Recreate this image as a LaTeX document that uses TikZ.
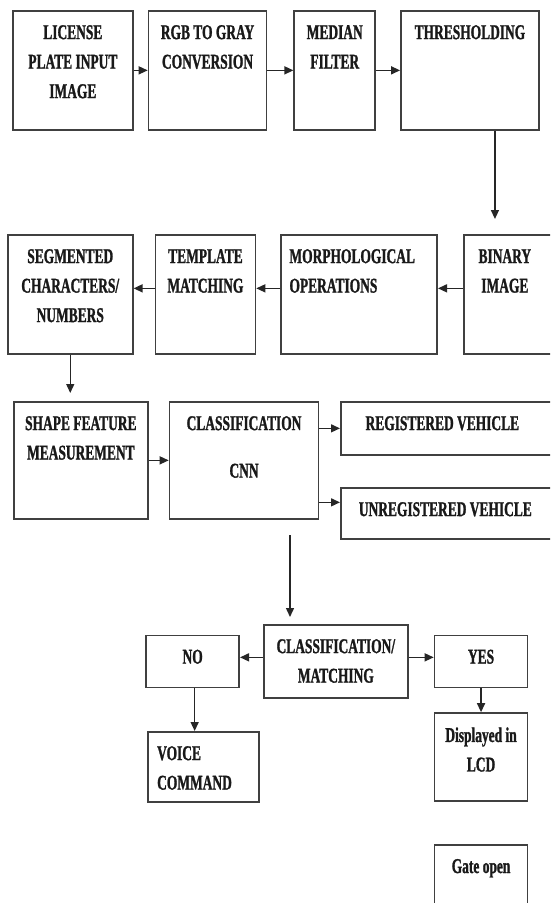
\documentclass[tikz,border=0pt]{standalone}
\usepackage{fontspec}
\setmainfont[FakeStretch=0.64, BoldFeatures={FakeBold=1.2}]{Liberation Serif}
\usetikzlibrary{arrows.meta}
\usetikzlibrary{positioning}

\begin{document}
\begin{tikzpicture}[x=1pt,y=-1pt]
    \tikzset{
      >={Triangle[length=9pt,width=8pt]},
      every node/.style={font=\bfseries\fontsize{21}{29.5}\selectfont, text=black!90},
      blk/.style={draw=black!75, line width=1.7pt, inner sep=0pt},
      txtc/.style={anchor=north, align=center, inner sep=0pt, yshift=-15pt},
      txtl/.style={anchor=north west, align=left, inner sep=0pt, yshift=-15pt, xshift=9pt},
      flow/.style={->, draw=black!85, line width=1.4pt},
    }
    \useasboundingbox (0,0) rectangle (550,903);
    \clip (0,0) rectangle (550,903);

    % first row
    \node[blk, anchor=north west, minimum width=120, minimum height=119,
      label={[txtc]north:{LICENSE\\PLATE INPUT\\IMAGE}}] (lic) at (12,10) {};
    \node[blk, right=14pt of lic, minimum width=118, minimum height=119,
      label={[txtc]north:{RGB TO GRAY\\CONVERSION}}] (rgb) {};
    \node[blk, right=26pt of rgb, minimum width=81, minimum height=119,
      label={[txtc]north:{MEDIAN\\FILTER}}] (med) {};
    \node[blk, right=24pt of med, minimum width=138, minimum height=119,
      label={[txtc]north:{THRESHOLDING}}] (thr) {};

    % second row, right to left
    \node[blk, anchor=north west, minimum width=92, minimum height=119,
      label={[txtc, xshift=-5pt]north:{BINARY\\IMAGE}}] (bin) at (463,234) {};
    \node[blk, left=25pt of bin, minimum width=156, minimum height=119,
      label={[txtl]north west:{MORPHOLOGICAL\\OPERATIONS}}] (mor) {};
    \node[blk, left=24pt of mor, minimum width=100, minimum height=119,
      label={[txtc]north:{TEMPLATE\\MATCHING}}] (tem) {};
    \node[blk, left=21pt of tem, minimum width=125, minimum height=119,
      label={[txtc]north:{SEGMENTED\\CHARACTERS/\\NUMBERS}}] (seg) {};

    % third row
    \node[blk, anchor=north west, minimum width=134, minimum height=117,
      label={[txtc]north:{SHAPE FEATURE\\MEASUREMENT}}] (shp) at (13,401) {};
    \node[blk, right=20pt of shp, minimum width=149, minimum height=117,
      label={[txtc]north:{CLASSIFICATION\\[18pt]CNN}}] (cls) {};
    \node[blk, anchor=north west, minimum width=215, minimum height=53,
      label={[txtc, xshift=-6pt]north:{REGISTERED VEHICLE}}] (reg) at (340,401) {};
    \node[blk, anchor=north west, minimum width=215, minimum height=51,
      label={[txtc, xshift=-3pt]north:{UNREGISTERED VEHICLE}}] (unr) at (340,487) {};

    % matching and result
    \node[blk, anchor=north west, minimum width=144, minimum height=73,
      label={[txtc]north:{CLASSIFICATION/\\MATCHING}}] (clm) at (263,624) {};
    \node[blk, left=23pt of clm, minimum width=93, minimum height=52,
      label={[txtc]north:{NO}}] (no) {};
    \node[blk, right=25pt of clm, minimum width=93, minimum height=52,
      label={[txtc]north:{YES}}] (yes) {};
    \node[blk, anchor=north west, minimum width=111, minimum height=70,
      label={[txtl, xshift=1pt]north west:{VOICE\\COMMAND}}] (voi) at (147,731) {};
    \node[blk, below=24pt of yes, minimum width=93, minimum height=88,
      label={[txtc]north:{Displayed in\\LCD}}] (dis) {};
    \node[blk, below=42pt of dis, minimum width=93, minimum height=89,
      label={[txtc]north:{Gate open}}] (gat) {};

    \coordinate (cnnout) at (290,535);

    \draw[flow] (lic) -- (rgb);
    \draw[flow] (rgb) -- (med);
    \draw[flow] (med) -- (thr);
    \draw[flow, shorten >=15pt] ([xshift=25pt]thr.south) -- ([xshift=25pt]thr.south |- bin.north);
    \draw[flow] ([yshift=6pt]bin.west) -- ([yshift=6pt]mor.east);
    \draw[flow] ([yshift=6pt]mor.west) -- ([yshift=6pt]tem.east);
    \draw[flow] ([yshift=6pt]tem.west) -- ([yshift=6pt]seg.east);
    \draw[flow, shorten >=8pt] (seg.south) -- (seg.south |- shp.north);
    \draw[flow] (shp) -- (cls);
    \draw[flow] (cls.east |- reg.west) -- (reg.west);
    \draw[flow] ([yshift=11pt]cls.east |- unr.west) -- ([yshift=11pt]unr.west);
    \draw[flow, shorten >=7pt] (cnnout) -- (cnnout |- clm.north);
    \draw[flow] ([yshift=4pt]clm.west) -- ([yshift=4pt]clm.west -| no.east);
    \draw[flow] ([yshift=4pt]clm.east) -- ([yshift=4pt]clm.east -| yes.west);
    \draw[flow] ([xshift=2pt]no.south) -- ([xshift=2pt]no.south |- voi.north);
    \draw[flow] (yes) -- (dis);
\end{tikzpicture}
\end{document}
